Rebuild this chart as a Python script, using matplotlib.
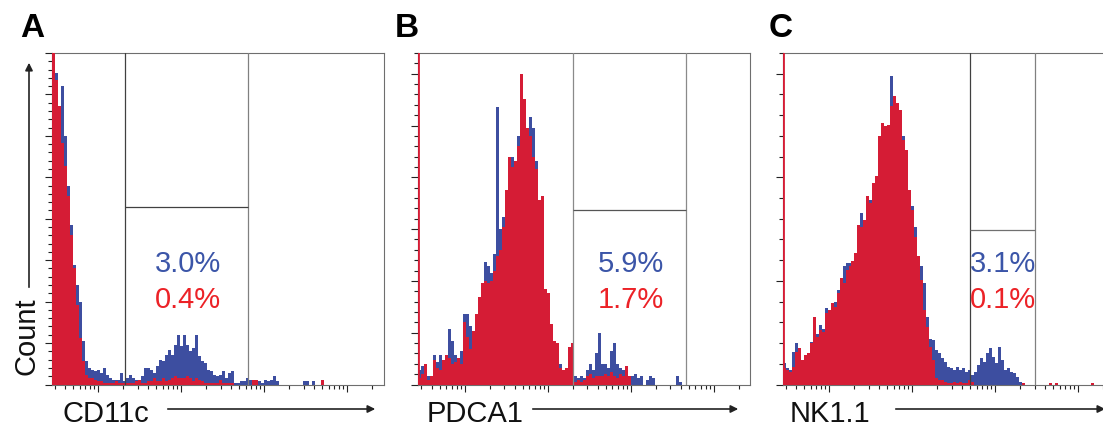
import numpy as np
import matplotlib
matplotlib.use("Agg")
import matplotlib.pyplot as plt
from matplotlib.ticker import MultipleLocator, LogLocator, NullFormatter
from matplotlib.patches import FancyArrowPatch
from matplotlib.transforms import Bbox, TransformedBbox

plt.rcParams['font.family'] = ['Liberation Sans', 'DejaVu Sans']

# ---------------- data (histogram counts per channel bin) ----------------
panel_letters = ["A", "B", "C"]
markers = ["CD11c", "PDCA1", "NK1.1"]
pct_blue = ["3.0%", "5.9%", "3.1%"]
pct_red = ["0.4%", "1.7%", "0.1%"]
y_max = [200, 160, 80]

a_blue = [210, 188, 168, 180, 150, 120, 96, 72, 60, 50, 26, 14, 10, 9, 8, 9, 7, 10, 6, 4,
          3, 3, 3, 7, 2, 4, 6, 4, 3, 2, 5, 10, 10, 9, 7, 11, 15, 14, 18, 21,
          18, 24, 30, 23, 30, 24, 20, 22, 30, 17, 14, 13, 9, 8, 6, 5, 6, 8, 4, 7,
          8, 1, 1, 2, 2, 4, 3, 2, 3, 2, 1, 3, 2, 3, 5, 2, 0, 0, 0, 0,
          0, 0, 0, 0, 2, 2, 0, 2, 0, 0, 2]
a_red = [210, 184, 168, 146, 132, 114, 90, 70, 48, 28, 14, 6, 4, 4, 3, 2, 2, 1, 1, 1,
         1, 2, 1, 1, 1, 1, 1, 1, 2, 3, 1, 1, 2, 2, 4, 2, 2, 4, 2, 3,
         4, 5, 4, 4, 4, 5, 4, 2, 4, 3, 2, 1, 1, 1, 1, 1, 3, 1, 1, 1,
         1, 0, 0, 0, 0, 0, 0, 3, 3, 0, 0, 0, 0, 0, 0, 0, 0, 0, 0, 0,
         0, 0, 0, 0, 0, 0, 0, 0, 0, 0, 3]

b_blue = [7, 9, 3, 4, 3, 14, 11, 14, 10, 13, 27, 21, 14, 13, 16, 34, 34, 28, 21, 34,
          36, 44, 59, 57, 54, 63, 134, 75, 81, 92, 108, 110, 104, 120, 146, 138, 123, 129, 124, 108,
          89, 83, 34, 38, 21, 18, 17, 10, 4, 7, 12, 2, 4, 3, 4, 3, 7, 10, 7, 15,
          25, 10, 10, 8, 16, 20, 10, 8, 7, 4, 1, 4, 5, 3, 4, 0, 2, 4, 3, 0,
          0, 0, 0, 0, 0, 0, 4, 1]
b_red = [3, 5, 10, 2, 4, 12, 8, 7, 12, 14, 13, 10, 11, 13, 10, 30, 23, 17, 26, 34,
         42, 49, 50, 49, 50, 55, 62, 65, 76, 94, 110, 105, 108, 115, 150, 138, 124, 120, 110, 104,
         89, 91, 46, 44, 29, 21, 20, 8, 7, 8, 18, 20, 1, 2, 1, 2, 4, 5, 3, 4,
         4, 4, 5, 4, 6, 4, 3, 5, 4, 9, 4]
b_red_pile = 170

c_blue = [5.1, 3.9, 3.5, 7.9, 9.9, 5.9, 6.0, 7.1, 6.5, 10.3, 11.5, 12.3, 14.3, 13.5, 18.4, 17.5, 18.5, 20.0, 22.8, 25.2,
          28.5, 29.3, 29.3, 29.3, 30.5, 37.0, 41.3, 39.0, 43.8, 44.6, 48.6, 47.8, 59.0, 61.9, 61.5, 58.3, 74.4, 68.0, 64.7, 62.3,
          59.9, 52.6, 44.6, 43.0, 38.1, 29.3, 28.5, 24.4, 16.4, 11.1, 10.7, 8.3, 7.5, 6.3, 5.5, 4.3, 3.9, 3.5, 4.3, 3.5,
          3.9, 3.1, 3.5, 2.3, 3.1, 4.7, 6.3, 5.5, 7.5, 8.7, 6.7, 5.1, 9.1, 5.9, 3.5, 3.9, 3.1, 2.7, 1.9, 0.6]
c_red = [3.9, 3.5, 3.1, 4.3, 7.9, 8.7, 6.0, 7.1, 7.5, 9.9, 16.4, 11.5, 13.1, 12.7, 17.2, 18.0, 19.6, 18.8, 22.0, 25.6,
         24.4, 27.6, 28.5, 29.7, 31.7, 38.5, 38.1, 39.7, 45.4, 43.8, 48.6, 50.2, 59.9, 63.1, 62.3, 62.7, 67.1, 69.6, 68.0, 66.3,
         59.0, 56.7, 47.0, 42.2, 35.7, 30.9, 25.2, 18.0, 13.9, 9.1, 5.9, 1.5, 1.0, 1.0, 0.6, 0.3, 0.4, 0.6, 0.3, 0.6,
         0.3, 0.3, 1.0, 0.6, 0, 0, 0, 0, 0, 0, 0, 0, 0, 0, 0, 0, 0, 0, 0, 0,
         0.4, 0, 0, 0, 0, 0, 0, 0, 0, 0.4, 0, 0.4, 0, 0, 0, 0, 0, 0, 0, 0,
         0, 0, 0, 0.4]
c_red_pile = 90

# gates (marker intensity, log10 units) and horizontal gate level (counts)
gate_lo = [2.32, 3.30, 3.70]
gate_hi = [3.80, 4.67, 4.48]
gate_h = [107, 84, 37.3]

blue_series = [a_blue, b_blue, c_blue]
red_series = [a_red, b_red, c_red]
red_piles = [None, b_red_pile, c_red_pile]

# ---------------- layout ----------------
W, H = 1103, 429
fig = plt.figure(figsize=(W / 100, H / 100), dpi=100)

def fx(px):
    return px / W

def fy(py):
    return 1 - py / H

LOG_LO, LOG_HI = 1.44, 5.44
N_BINS = 111
BIN_W = (LOG_HI - LOG_LO) / N_BINS

BLUE = '#3d4ea0'
RED = '#d51c35'
TBLUE = '#3b55a8'
TRED = '#ec2227'

ax_left_px = [51.7, 418.3, 782.7]
ax_w_px = 332
ax_top_px, ax_bot_px = 53.0, 384.5
label_left_px = [62.7, 426.7, 790.0]
arrow_x_px = [(165, 378), (530, 741), (893, 1108)]
letter_px = [20, 395, 769]
text_x_frac = [0.4105, 0.6407, 0.6627]
gate_colors = [('#404040', '#808080', '#404040'),
               ('#8a8a8a', '#8a8a8a', '#555555'),
               ('#404040', '#808080', '#707070')]

for k in range(3):
    ax = fig.add_axes([fx(ax_left_px[k]), fy(ax_bot_px), ax_w_px / W, (ax_bot_px - ax_top_px) / H])
    ax.set_xscale('log')
    lo, hi = 10 ** LOG_LO, 10 ** LOG_HI
    ax.set_xlim(lo, hi)
    ax.set_ylim(0, y_max[k])

    bl = np.asarray(blue_series[k], dtype=float)
    rd = np.asarray(red_series[k], dtype=float)
    e_b = 10 ** (LOG_LO + BIN_W * np.arange(len(bl) + 1))
    e_r = 10 ** (LOG_LO + BIN_W * np.arange(len(rd) + 1))
    ax.stairs(bl, e_b, fill=True, color=BLUE, lw=0, zorder=2)
    ax.stairs(rd, e_r, fill=True, color=RED, lw=0, zorder=3)
    if red_piles[k] is not None:
        ax.vlines(lo, 0, red_piles[k], color=RED, lw=2.0, zorder=3)

    g1, g2 = 10 ** gate_lo[k], 10 ** gate_hi[k]
    c1, c2, ch = gate_colors[k]
    ax.axvline(g1, color=c1, lw=0.9, zorder=4)
    ax.axvline(g2, color=c2, lw=0.9, zorder=4)
    ax.hlines(gate_h[k], g1, g2, color=ch, lw=0.9, zorder=4)

    # ticks
    ax.xaxis.set_major_locator(LogLocator(base=10, numticks=20))
    ax.xaxis.set_minor_locator(LogLocator(base=10, subs=np.arange(2, 10), numticks=20))
    ax.xaxis.set_major_formatter(NullFormatter())
    ax.xaxis.set_minor_formatter(NullFormatter())
    ax.yaxis.set_major_locator(MultipleLocator(25))
    ax.yaxis.set_minor_locator(MultipleLocator(5))
    ax.yaxis.set_major_formatter(NullFormatter())
    ax.yaxis.set_minor_formatter(NullFormatter())
    ax.tick_params(which='major', direction='out', length=5, width=0.8, color='#222222',
                   top=False, right=False)
    ax.tick_params(which='minor', direction='out', length=2.6, width=0.8, color='#222222',
                   top=False, right=False)
    for s in ax.spines.values():
        s.set_color('#6e6e6e')
        s.set_linewidth(0.8)
    ax.spines['left'].set_color('#333333')

    # percentages
    ax.text(text_x_frac[k], 0.3394, pct_blue[k], transform=ax.transAxes, ha='center',
            va='baseline', fontsize=21, color=TBLUE, zorder=5)
    t2 = ax.text(text_x_frac[k], 0.2308, pct_red[k], transform=ax.transAxes, ha='center',
                 va='baseline', fontsize=21, color=TRED, zorder=5)
    if k == 2:
        clip = TransformedBbox(Bbox([[g1, 0], [g2, y_max[k]]]), ax.transData)
        for t in ax.texts:
            t.set_clip_on(True)
            t.set_clip_box(clip)

    # panel letter
    fig.text(fx(letter_px[k]), fy(37), panel_letters[k], fontsize=24, fontweight='bold',
             ha='left', va='baseline', color='black')
    # x label with arrow
    fig.text(fx(label_left_px[k]), fy(421.5), markers[k], fontsize=21, ha='left',
             va='baseline', color='#111111')
    x0, x1 = arrow_x_px[k]
    fig.add_artist(FancyArrowPatch((fx(x0), fy(409)), (fx(x1), fy(409)),
                                   transform=fig.transFigure, arrowstyle='-|>',
                                   mutation_scale=11, lw=1.2, color='#222222'))

# Count label and arrow
fig.text(fx(27), fy(336.5), 'Count', rotation=90, ha='center', va='center',
         fontsize=21, color='#111111')
fig.add_artist(FancyArrowPatch((fx(29), fy(290)), (fx(29), fy(60)),
                               transform=fig.transFigure, arrowstyle='-|>',
                               mutation_scale=11, lw=1.2, color='#222222'))

fig.savefig('out.png', dpi=100)
